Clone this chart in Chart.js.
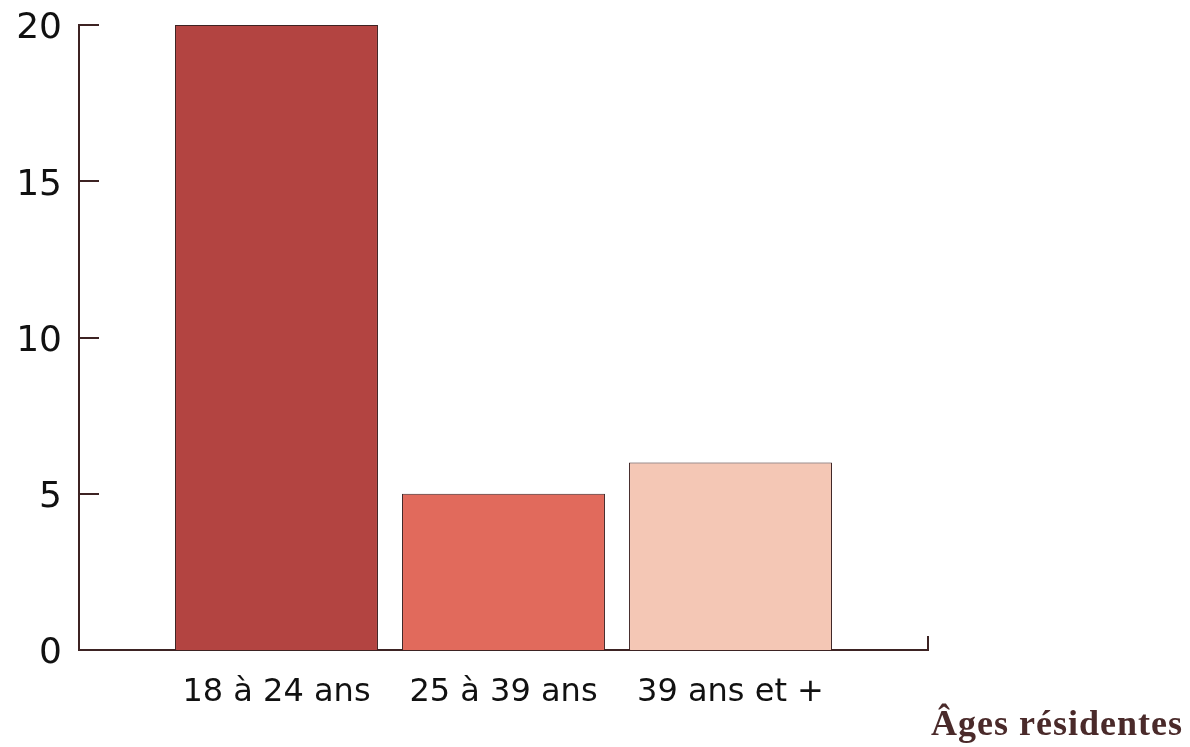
<!DOCTYPE html>
<html>
<head>
<meta charset="utf-8">
<script src="https://cdn.jsdelivr.net/npm/chart.js@4"></script>
<style>
  html, body { margin: 0; padding: 0; background: #fff; }
</style>
</head>
<body>
<canvas id="chart" width="1190" height="747"></canvas>
<script>
// ===== Données
const categories = ['18 à 24 ans', '25 à 39 ans', '39 ans et +'];
const values = [20, 5, 6];
const barColors = ['#b34441', '#e16a5c', '#f4c7b5'];
const yTicks = [0, 5, 10, 15, 20];
const titleText = 'Âges résidentes';

const AXIS = '#3d2323';

// ticks vers l'intérieur + titre en bas à droite
const inwardTicks = {
    id: 'inwardTicks',
    afterDraw(chart) {
        const { ctx, scales: { x, y } } = chart;
        ctx.save();
        ctx.strokeStyle = AXIS;
        ctx.lineWidth = 2;
        ctx.beginPath();
        y.ticks.forEach(t => {
            const py = Math.round(y.getPixelForValue(t.value));
            ctx.moveTo(y.right - 1, py);
            ctx.lineTo(y.right + 20, py);
        });
        ctx.moveTo(x.right, x.top + 1);
        ctx.lineTo(x.right, x.top - 14);
        ctx.stroke();

        ctx.font = 'bold 36px "Liberation Serif"';
        ctx.letterSpacing = '1px';
        ctx.fillStyle = '#4a2a2a';
        ctx.textAlign = 'right';
        ctx.textBaseline = 'alphabetic';
        ctx.fillText(titleText, chart.width - 7, chart.height - 12);
        ctx.restore();
    }
};

new Chart(document.getElementById('chart'), {
    type: 'bar',
    data: {
        datasets: [{
            data: values.map((v, i) => ({ x: i, y: v })),
            backgroundColor: barColors,
            borderColor: AXIS,
            borderWidth: 1,
            categoryPercentage: 1,
            barPercentage: 0.894
        }]
    },
    options: {
        responsive: false,
        animation: false,
        devicePixelRatio: 1,
        layout: { padding: { top: 25, right: 262, left: 0, bottom: 0 } },
        plugins: { legend: { display: false }, tooltip: { enabled: false } },
        scales: {
            x: {
                type: 'linear',
                min: -0.87,
                max: 2.87,
                offset: false,
                grid: { display: false, drawTicks: false },
                border: { display: true, color: AXIS, width: 2 },
                ticks: {
                    stepSize: 1,
                    includeBounds: false,
                    autoSkip: false,
                    maxRotation: 0,
                    padding: 23,
                    color: '#111',
                    font: { family: 'DejaVu Sans', size: 32 },
                    callback: v => categories[v] ?? ''
                },
                afterFit: s => { s.height = 97; s.paddingLeft = 0; s.paddingRight = 0; }
            },
            y: {
                min: 0,
                max: 20,
                grid: { display: false, drawTicks: false },
                border: { display: true, color: AXIS, width: 2 },
                ticks: {
                    padding: 17,
                    labelOffset: 4,
                    color: '#111',
                    font: { family: 'DejaVu Sans', size: 36 }
                },
                afterBuildTicks: s => { s.ticks = yTicks.map(v => ({ value: v })); },
                afterFit: s => { s.width = 79; s.paddingTop = 0; s.paddingBottom = 0; }
            }
        }
    },
    plugins: [inwardTicks]
});
</script>
</body>
</html>
